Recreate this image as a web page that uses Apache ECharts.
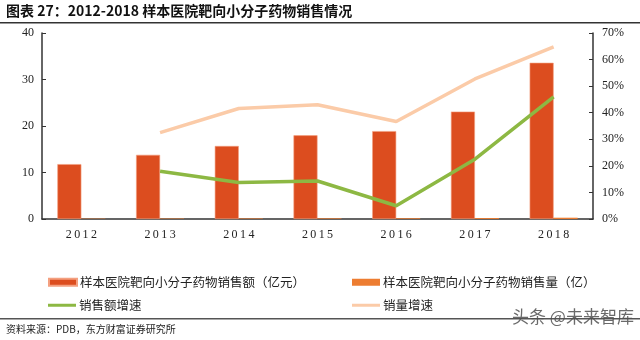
<!DOCTYPE html>
<html><head><meta charset="utf-8">
<script src="https://cdn.jsdelivr.net/npm/echarts@6/dist/echarts.min.js"></script>
<style>html,body{margin:0;padding:0;background:#fff}#c{width:640px;height:340px}</style>
</head><body><div id="c"></div>
<script>
const categories = ['2012','2013','2014','2015','2016','2017','2018'];
const salesValue = [11.8, 13.8, 15.7, 18.0, 18.9, 23.1, 33.6];
const salesVolume = [0.08, 0.1, 0.12, 0.14, 0.16, 0.2, 0.28];
const valueGrowth = [null, 18.0, 13.7, 14.3, 5.0, 22.5, 46.0];
const volumeGrowth = [null, 32.5, 41.6, 43.0, 36.7, 52.7, 64.8];
const leftTicks = [0, 10, 20, 30, 40];
const rightTicks = [0, 10, 20, 30, 40, 50, 60, 70];

const names = ['样本医院靶向小分子药物销售额（亿元）','样本医院靶向小分子药物销售量（亿）','销售额增速','销量增速'];
const colors = ['#DC4D1F','#ED7D31','#8DB843','#FBCBA8'];
const serif = 'Liberation Serif';
const cjk = 'Noto Sans CJK SC';

const chart = echarts.init(document.getElementById('c'), null, {renderer:'canvas'});
const legendBase = {orient:'horizontal', itemWidth:28, itemGap:4, padding:0,
  textStyle:{fontFamily:cjk, fontSize:12.5, color:'#222', padding:[0,0,0,-2]}, selectedMode:false};
chart.setOption({
  animation:false,
  grid:{left:42, right:47, top:33, bottom:121},
  graphic:[
    {type:'text', left:6, top:4, style:{text:'图表 27：2012-2018 样本医院靶向小分子药物销售情况', font:'bold 14px "Noto Sans CJK SC"', fill:'#111'}},
    {type:'rect', shape:{x:0,y:22,width:640,height:1.5}, style:{fill:'#333'}},
    {type:'rect', shape:{x:0,y:318,width:640,height:1.5}, style:{fill:'#555'}},
    {type:'text', left:6, top:324, style:{text:'资料来源：PDB，东方财富证券研究所', font:'10px "Noto Sans CJK SC"', fill:'#222'}},
    {type:'text', left:512, top:308, style:{text:'头条 @未来智库', font:'17px "Noto Sans CJK SC"', fill:'rgba(80,80,80,0.85)'}}
  ],
  legend:[
    Object.assign({}, legendBase, {left:48, top:276, itemHeight:7, data:[{name:names[0], icon:'rect'}]}),
    Object.assign({}, legendBase, {left:352, top:276, itemHeight:7, data:[{name:names[1], icon:'rect'}]}),
    Object.assign({}, legendBase, {left:48, top:299, itemHeight:3, data:[{name:names[2], icon:'rect'}]}),
    Object.assign({}, legendBase, {left:352, top:299, itemHeight:3, data:[{name:names[3], icon:'rect'}]})
  ],
  xAxis:{type:'category', data:categories, boundaryGap:true,
    axisLine:{lineStyle:{color:'#333', width:1.5}},
    axisTick:{inside:true, length:4, lineStyle:{color:'#333'}},
    axisLabel:{fontFamily:serif, fontSize:12, color:'#222', margin:10,
      formatter:v=>v.split('').join('\u2009')}},
  yAxis:[
    {type:'value', min:0, max:40, interval:10, splitLine:{show:false},
      axisLine:{show:true, lineStyle:{color:'#333', width:1.5}},
      axisTick:{show:true, inside:true, length:4, lineStyle:{color:'#333'}},
      axisLabel:{fontFamily:serif, fontSize:12, color:'#222', margin:8,
        formatter:v=>leftTicks.includes(v)?String(v):''}},
    {type:'value', min:0, max:70, interval:10, splitLine:{show:false}, position:'right',
      axisLine:{show:true, lineStyle:{color:'#333', width:1.5}},
      axisTick:{show:true, inside:true, length:4, lineStyle:{color:'#333'}},
      axisLabel:{fontFamily:serif, fontSize:12, color:'#222', margin:9,
        formatter:v=>rightTicks.includes(v)?(v+'%'):''}}
  ],
  series:[
    {name:names[0], type:'bar', data:salesValue, barWidth:24, barGap:'0%', itemStyle:{color:colors[0], borderColor:'#F4A080', borderWidth:0.6}},
    {name:names[1], type:'bar', data:salesVolume, barWidth:24, itemStyle:{color:colors[1]}},
    {name:names[2], type:'line', yAxisIndex:1, data:valueGrowth, symbol:'none', lineStyle:{color:colors[2], width:3.5}, itemStyle:{color:colors[2]}},
    {name:names[3], type:'line', yAxisIndex:1, data:volumeGrowth, symbol:'none', lineStyle:{color:colors[3], width:3.5}, itemStyle:{color:colors[3]}}
  ]
});
</script></body></html>
